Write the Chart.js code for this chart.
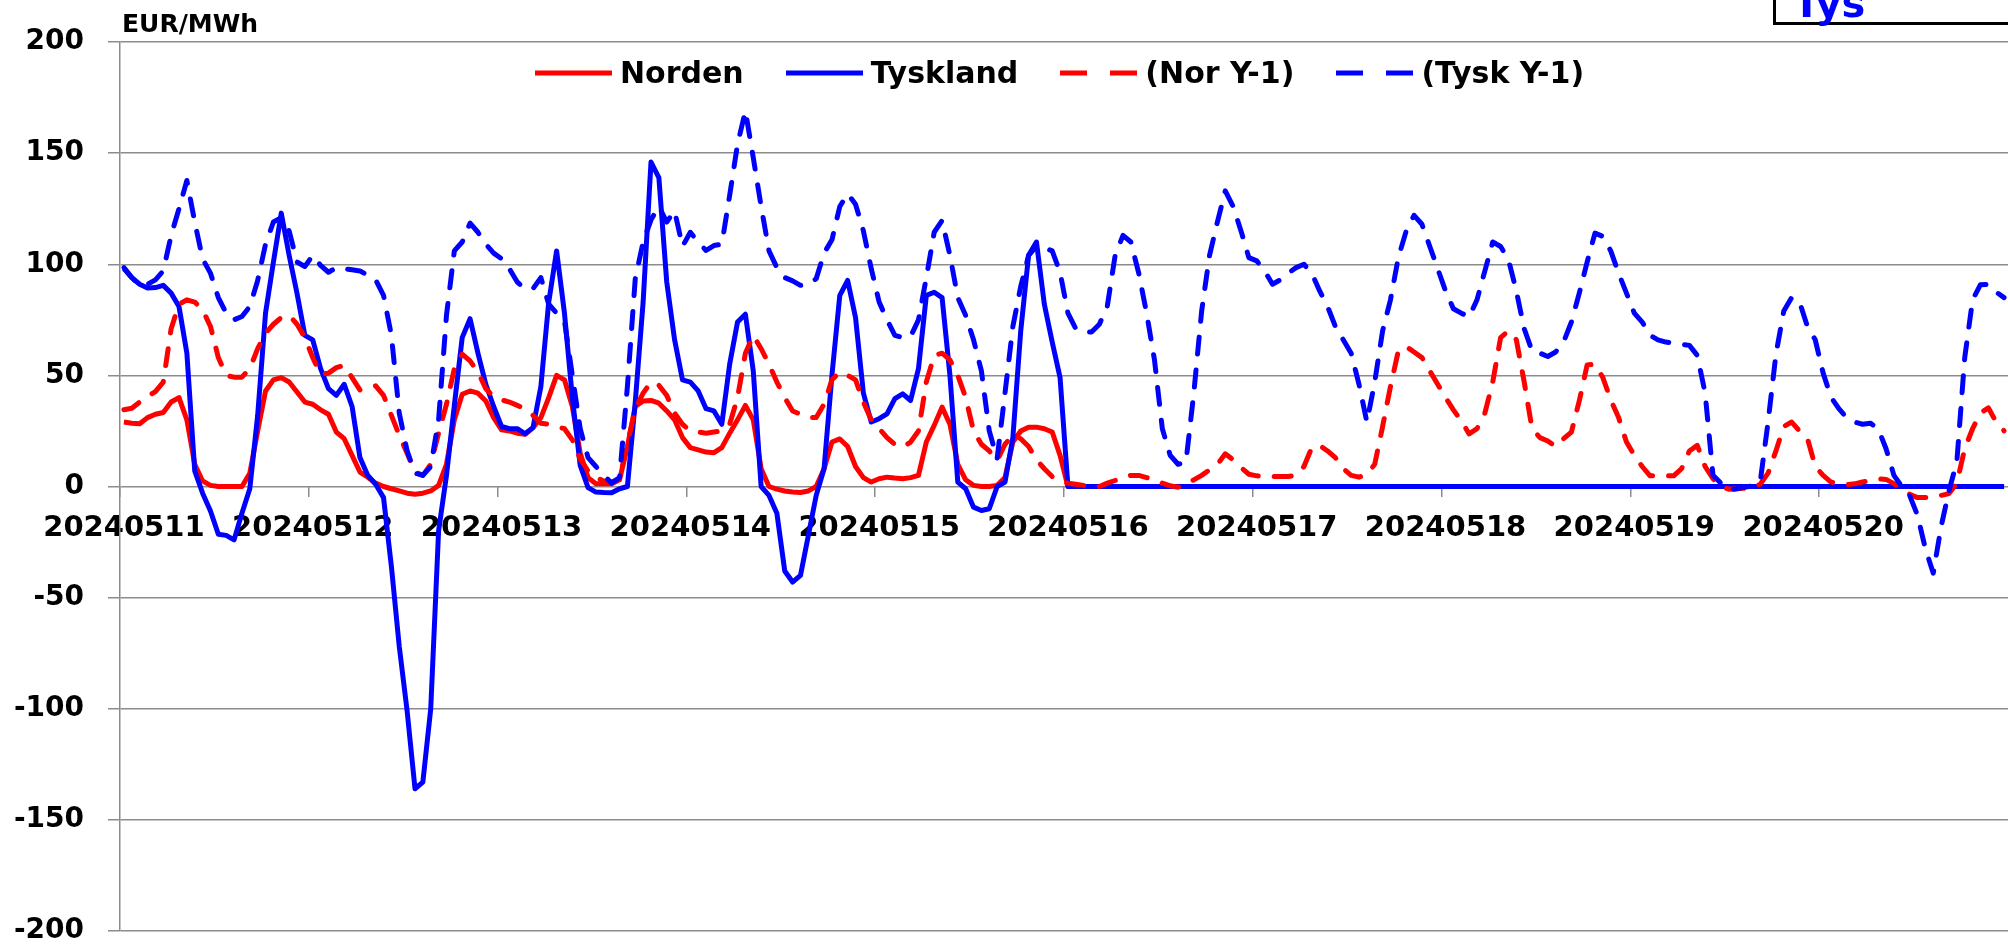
<!DOCTYPE html>
<html>
<head>
<meta charset="utf-8">
<script src="https://cdn.jsdelivr.net/npm/chart.js@4.4.1/dist/chart.umd.min.js"></script>
<style>
  html, body { margin: 0; padding: 0; background: #fff; overflow: hidden; }
  #wrap { position: relative; width: 2008px; height: 945px; font-family: 'DejaVu Sans', sans-serif; font-weight: bold; color: #000; }
  #chart { position: absolute; left: 0; top: 0; }
  #unit { position: absolute; left: 122px; top: 11px; font-size: 25px; line-height: 25px; }
  #legend { position: absolute; left: 535px; top: 59px; display: flex; align-items: center; font-size: 30px; line-height: 28px; }
  #legend .item { display: flex; align-items: center; margin-right: 42px; }
  #legend svg { margin-right: 8px; }
  #tag { position: absolute; left: 1773px; top: -60px; width: 300px; height: 79px; border: 3px solid #000; background: #fff; }
  #tag span { position: absolute; left: 17px; top: 40px; color: #0000ff; font-size: 40px; line-height: 40px; }
</style>
</head>
<body>
<div id="wrap">
  <canvas id="chart" width="2008" height="945"></canvas>
  <div id="unit">EUR/MWh</div>
  <div id="legend"></div>
  <div id="tag"><span>Tys</span></div>
</div>
<script>
const DAYS = ['20240511', '20240512', '20240513', '20240514', '20240515',
              '20240516', '20240517', '20240518', '20240519', '20240520'];
const HOURS = ['00', '01', '02', '03', '04', '05', '06', '07', '08', '09', '10', '11',
               '12', '13', '14', '15', '16', '17', '18', '19', '20', '21', '22', '23'];

// hourly EUR/MWh, one row per day
const NORDEN = [
  29, 28.5, 28.2, 31, 32.5, 33.3, 38, 40, 30, 10, 2.5, 0.5, 0, 0, 0, 0, 6, 25, 43, 48, 49, 47, 42.5, 38,
  37, 34.5, 32.5, 24.5, 21.5, 14, 6.5, 4.2, 1.5, 0, -1, -2, -3, -3.5, -3, -2, 0.5, 10, 30, 41.5, 43, 42, 38.5, 31,
  25.5, 25, 24, 23.5, 26.5, 31, 40, 50, 48, 36, 15, 4, 1.2, 1.2, 1.2, 3, 18, 36, 38.5, 38.7, 37.5, 34, 30, 22,
  17.5, 16.5, 15.5, 15.2, 17.5, 24, 30, 36.5, 30, 8, 0, -1.2, -2, -2.5, -2.7, -2, 0, 8, 20, 21.4, 18, 9, 4, 2,
  3.5, 4.2, 3.8, 3.5, 4, 5, 20, 27.5, 35.7, 28, 10, 3, 0.5, 0, 0, 0.5, 4, 20, 25, 26.7, 26.7, 26, 24.5, 14,
  0, 0, 0, 0, 0, 0, 0, 0, 0, 0, 0, 0, 0, 0, 0, 0, 0, 0, 0, 0, 0, 0, 0, 0,
  0, 0, 0, 0, 0, 0, 0, 0, 0, 0, 0, 0, 0, 0, 0, 0, 0, 0, 0, 0, 0, 0, 0, 0,
  0, 0, 0, 0, 0, 0, 0, 0, 0, 0, 0, 0, 0, 0, 0, 0, 0, 0, 0, 0, 0, 0, 0, 0,
  0, 0, 0, 0, 0, 0, 0, 0, 0, 0, 0, 0, 0, 0, 0, 0, 0, 0, 0, 0, 0, 0, 0, 0,
  0, 0, 0, 0, 0, 0, 0, 0, 0, 0, 0, 0, 0, 0, 0, 0, 0, 0, 0, 0, 0, 0, 0, 0
];
const TYSKLAND = [
  98, 94, 91, 89.3, 89.5, 90.5, 87, 81, 60, 7, -3, -11, -21.5, -22, -24, -12, -1, 32, 78, 101, 123, 104, 87, 68,
  66, 53, 44, 41, 46, 36, 13, 5, 1, -5, -36, -72, -101, -136, -133, -100, -20, 5, 36.5, 67, 75.5, 60, 46, 36,
  27, 26, 26, 23.7, 26.5, 45, 83, 106, 78, 40, 9.5, -0.5, -2.5, -2.7, -2.8, -1, 0, 38, 83, 146, 139, 92, 66, 48,
  47, 43, 35, 34, 28, 55, 74, 77.5, 52, 0, -4, -12, -38, -43, -40, -22, -4, 8, 50, 86, 92.7, 76, 42, 29,
  30.5, 32.7, 39.5, 41.7, 38.7, 53, 86, 87.4, 85, 50, 2, -1, -9.3, -10.8, -10, 0, 2, 22, 70, 104, 110, 82, 65, 49,
  0, 0, 0, 0, 0, 0, 0, 0, 0, 0, 0, 0, 0, 0, 0, 0, 0, 0, 0, 0, 0, 0, 0, 0,
  0, 0, 0, 0, 0, 0, 0, 0, 0, 0, 0, 0, 0, 0, 0, 0, 0, 0, 0, 0, 0, 0, 0, 0,
  0, 0, 0, 0, 0, 0, 0, 0, 0, 0, 0, 0, 0, 0, 0, 0, 0, 0, 0, 0, 0, 0, 0, 0,
  0, 0, 0, 0, 0, 0, 0, 0, 0, 0, 0, 0, 0, 0, 0, 0, 0, 0, 0, 0, 0, 0, 0, 0,
  0, 0, 0, 0, 0, 0, 0, 0, 0, 0, 0, 0, 0, 0, 0, 0, 0, 0, 0, 0, 0, 0, 0, 0
];
const NOR_Y1 = [
  34.5, 35.2, 38, 40.5, 42.7, 47, 71, 82, 84, 83, 79.5, 72, 58, 50, 49.2, 49.2, 53, 62, 69, 73, 76, 77, 73, 67,
  58, 50.5, 51, 53.5, 54.5, 49, 43.5, 44.5, 45.3, 41, 32, 23, 15, 6.5, 5, 10, 24, 37, 53, 59.5, 56.5, 51.5, 44, 40.5,
  39, 38, 36.5, 35, 32, 28.5, 28, 27, 26, 21, 12.4, 7, 4, 2.5, 2, 3.5, 19, 35, 42, 47, 45.5, 41, 33, 28,
  25, 24.5, 24, 24.5, 25, 28, 40, 60, 68, 62, 55, 47, 40, 34, 32.5, 31, 31, 37, 48, 51.5, 50, 48, 38, 30,
  26, 22, 19, 17.7, 20, 25, 47, 59, 60, 57, 50, 40, 25, 19, 16, 11.7, 19, 23, 21.5, 18, 12, 8, 4.5, 2.5,
  1.5, 1, 0.5, 0, 0, 1.5, 2.7, 4, 5, 5, 4, 3, 1.5, 0.3, -0.3, 1, 3, 5, 7.5, 10, 14.7, 12, 8.5, 5.5,
  4.8, 4.5, 4.5, 4.5, 4.5, 5, 9, 17.5, 18.5, 16, 13, 8, 5, 4.2, 5.5, 10, 27, 45, 61, 63, 60.5, 58, 52, 46,
  40, 34.5, 29.5, 23.7, 26, 33, 47, 67, 70, 66, 47, 26, 22, 20.5, 18, 21.5, 24.5, 38.5, 54.7, 55, 49, 39, 31, 20,
  14, 9, 4.8, 4.8, 4.8, 4.8, 8, 16, 18.5, 9, 3.5, 0, -1.2, -1, -0.8, -0.3, 1, 6, 16, 27, 29, 25, 21.7, 9,
  5, 2, 1.3, 0.8, 1.2, 2, 2.8, 3.5, 3.2, 1.3, -1, -3.5, -5, -5, -5, -4, -3.2, 1.6, 17, 26, 33, 35.4, 29, 25
];
const TYSK_Y1 = [
  98.5, 94, 90.5, 91, 93, 97, 113, 125, 137.7, 119, 102.4, 96, 85, 78, 75, 76.5, 81, 92.7, 109, 119, 121, 115, 101, 99,
  104, 99.5, 96.4, 98.5, 98, 97.5, 97, 95, 93, 86, 68, 33, 16, 6, 5, 9, 30, 77, 106, 110, 118.5, 114.4, 109, 105,
  102.5, 98, 92, 89, 89, 94, 82, 78, 74.5, 50, 26, 13, 9, 5, 1.5, 4, 45, 93.5, 110, 120, 126, 119, 124, 108,
  114.4, 110, 106.2, 108.4, 109, 131, 154, 169, 148, 126, 106, 98.5, 94, 92.5, 90.5, 91, 93.5, 105, 111, 126, 131.7, 127, 115, 98,
  83, 75, 68, 67, 67.5, 75, 94, 114.4, 119.7, 104, 85, 77, 66, 52, 25, 12.5, 42, 72, 90, 104, 108, 107.5, 106, 96.4,
  78, 71, 69.5, 69.5, 73, 81, 104, 113, 110, 96, 78, 57, 26, 14, 10, 11, 42, 79, 104, 119, 133, 126, 115, 103,
  101.5, 97, 91, 93, 96, 98.5, 100, 96, 88, 81, 72, 66, 60, 46, 29, 47, 70, 84, 103, 115, 122, 118, 108, 98,
  88, 80, 78, 76.3, 84, 97, 110, 108, 102, 88, 71, 61, 60, 58.5, 60.5, 65, 74, 87, 101, 114, 112.5, 106, 96, 87,
  78, 74, 68, 66, 65, 64.5, 64, 63.5, 59, 42, 5, 1.5, -1.5, -1, -0.3, 0.3, 2, 29, 59.5, 79, 85, 83, 72, 66,
  51, 40.2, 35, 31, 29, 28, 28.5, 26, 17, 5, 0, -4, -13, -28, -39, -18, -2, 11.3, 58, 84, 90.8, 91, 87.5, 85
];
const Y_TICKS = [-200, -150, -100, -50, 0, 50, 100, 150, 200];

const RED = '#ff0000';
const BLUE = '#0000ff';
const GRID = '#8c8c8c';
const DASH = [17, 16];
const LEGEND_DASH = '27 23';

Chart.defaults.font.family = "'DejaVu Sans', sans-serif";
Chart.defaults.font.weight = 'bold';
Chart.defaults.color = '#000';

const labels = DAYS.flatMap(d => HOURS.map(h => d + ' ' + h));

const line = (label, data, color, dash, order) => ({
  label, data, order,
  borderColor: color, backgroundColor: color,
  borderWidth: 5, borderDash: dash || [],
  borderCapStyle: dash ? 'round' : 'butt', borderJoinStyle: 'round',
  pointRadius: 0, tension: 0, fill: false
});

const chart = new Chart(document.getElementById('chart'), {
  type: 'line',
  data: {
    labels,
    datasets: [
      line('Norden', NORDEN, RED, null, 4),
      line('Tyskland', TYSKLAND, BLUE, null, 3),
      line('(Nor Y-1)', NOR_Y1, RED, DASH, 2),
      line('(Tysk Y-1)', TYSK_Y1, BLUE, DASH, 1)
    ]
  },
  options: {
    responsive: false,
    animation: false,
    devicePixelRatio: 1,
    events: [],
    layout: { padding: { top: 42, right: 0, bottom: 14, left: 0 } },
    plugins: { legend: { display: false }, title: { display: false }, tooltip: { enabled: false } },
    scales: {
      x: {
        type: 'category',
        offset: true,
        position: { y: 0 },
        // plot runs to the right edge of the picture
        afterFit: s => { s.paddingLeft = 0; s.paddingRight = 0; },
        border: { display: false },
        grid: {
          drawOnChartArea: false, offset: true, tickLength: 10, lineWidth: 1.5,
          color: c => c.index % 24 === 0 ? GRID : 'rgba(0,0,0,0)'
        },
        ticks: {
          autoSkip: false, maxRotation: 0, minRotation: 0, padding: 15,
          font: { size: 29, weight: 'bold' },
          callback: (v, i) => i % 24 === 0 ? DAYS[i / 24] : ''
        }
      },
      y: {
        min: Y_TICKS[0], max: Y_TICKS[Y_TICKS.length - 1],
        afterFit: s => { s.width = 120; s.paddingTop = 0; s.paddingBottom = 0; },
        afterBuildTicks: s => { s.ticks = Y_TICKS.map(v => ({ value: v })); },
        border: { color: GRID, width: 1.5 },
        grid: { color: GRID, lineWidth: 1.5, tickLength: 12 },
        ticks: { padding: 24, font: { size: 28, weight: 'bold', lineHeight: 1 } }
      }
    }
  }
});

// legend built from the chart's own datasets (Excel keeps it inside the plot)
const legend = document.getElementById('legend');
chart.data.datasets.forEach(ds => {
  const dash = ds.borderDash.length ? ` stroke-dasharray="${LEGEND_DASH}"` : '';
  const item = document.createElement('div');
  item.className = 'item';
  item.innerHTML =
    `<svg width="77" height="10"><line x1="0" y1="5" x2="77" y2="5" stroke="${ds.borderColor}" stroke-width="5"${dash}/></svg>` +
    `<span>${ds.label}</span>`;
  legend.appendChild(item);
});
</script>
</body>
</html>
